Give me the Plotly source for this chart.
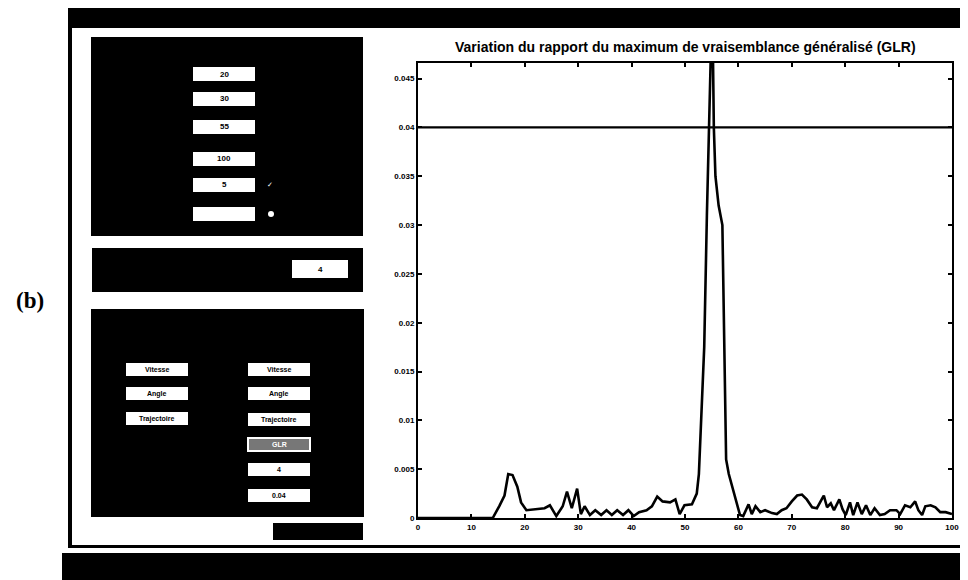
import plotly.graph_objects as go

# the page puts the figure 8 px from the top-left corner, so the figure is drawn 8 px smaller
OFF = 8
W, H = 968 - OFF, 580 - OFF

# ---------------- data ----------------
glr_x = [0, 14, 15.2, 16.2, 16.9, 17.7, 18.6, 19.3, 20.3, 22.3, 23.7, 24.7, 25.9, 27.1, 27.9,
         28.8, 29.8, 30.5, 31.2, 32.2, 33.2, 34.3, 35.3, 36.3, 37.3, 38.4, 39.4, 40.4, 41.4,
         42.8, 43.8, 44.8, 45.8, 47.2, 48.2, 49.0, 49.9, 51.3, 52.2, 52.6, 52.9, 53.3, 53.6,
         54.1, 54.6, 54.9, 55.2, 55.4, 55.7, 56.3, 57.0, 57.4, 57.7, 58.2, 59.0, 59.6, 60.3,
         60.9, 61.9, 62.5, 63.2, 64.1, 65.0, 66.3, 67.2, 68.1, 69.0, 70.0, 71.0, 71.9, 72.8,
         73.8, 74.7, 75.7, 76.0, 76.6, 77.3, 77.9, 78.9, 79.5, 80.1, 80.9, 81.5, 82.3, 83.1,
         83.9, 84.7, 85.5, 86.5, 87.4, 88.4, 89.6, 90.3, 91.2, 92.2, 93.1, 93.7, 94.4, 95.0,
         96.0, 96.9, 97.8, 98.8, 100]
glr_y = [0, 0, 0.0012, 0.0023, 0.0045, 0.0044, 0.0032, 0.0016, 0.0008, 0.0009, 0.0010, 0.0013,
         0.0002, 0.0012, 0.0027, 0.0010, 0.0030, 0.0004, 0.0012, 0.0003, 0.0008, 0.0003, 0.0008,
         0.0003, 0.0008, 0.0003, 0.0008, 0.0002, 0.0006, 0.0008, 0.0012, 0.0022, 0.0017, 0.0016,
         0.0019, 0.0004, 0.0013, 0.0014, 0.0025, 0.0045, 0.0090, 0.0135, 0.0175, 0.0310, 0.0405,
         0.0490, 0.0490, 0.0400, 0.0350, 0.0320, 0.0300, 0.0160, 0.0060, 0.0045, 0.0028, 0.0015,
         0.0003, 0.0002, 0.0014, 0.0004, 0.0012, 0.0006, 0.0008, 0.0005, 0.0004, 0.0008, 0.0010,
         0.0017, 0.0023, 0.0024, 0.0019, 0.0011, 0.0010, 0.0020, 0.0023, 0.0011, 0.0015, 0.0008,
         0.0019, 0.0009, 0.0003, 0.0016, 0.0003, 0.0016, 0.0004, 0.0013, 0.0003, 0.0010, 0.0003,
         0.0004, 0.0008, 0.0008, 0.0004, 0.0013, 0.0011, 0.0017, 0.0008, 0.0003, 0.0012, 0.0013,
         0.0011, 0.0006, 0.0006, 0.0004]
threshold = 0.04

x_ticks = [0, 10, 20, 30, 40, 50, 60, 70, 80, 90, 100]
y_ticks = [0, 0.005, 0.01, 0.015, 0.02, 0.025, 0.03, 0.035, 0.04, 0.045]
y_tick_labels = ["0", "0.005", "0.01", "0.015", "0.02", "0.025", "0.03", "0.035", "0.04", "0.045"]

title_text = "Variation du rapport du maximum de vraisemblance généralisé (GLR)"
param_values = ["20", "30", "55", "100", "5", ""]
panel2_value = "4"
left_buttons = ["Vitesse", "Angle", "Trajectoire"]
right_buttons = ["Vitesse", "Angle", "Trajectoire", "GLR", "4", "0.04"]
panel_label = "(b)"

FONT = "Liberation Sans, Arial"

# ---------------- helpers (screen pixel -> paper) ----------------
def px(x):
    return (x - OFF) / W

def py(y):
    return 1 - (y - OFF) / H

shapes = []
annotations = []

def rect(x0, y0, x1, y1, fill="black", line_color=None, line_width=0):
    shapes.append(dict(type="rect", xref="paper", yref="paper",
                       x0=px(x0), x1=px(x1), y0=py(y1), y1=py(y0),
                       fillcolor=fill,
                       line=dict(color=line_color or fill, width=line_width),
                       layer="below"))

def label(x, y, text, size=8, color="black", family=FONT, bold=True):
    annotations.append(dict(xref="paper", yref="paper", x=px(x), y=py(y),
                            text=("<b>%s</b>" % text) if (bold and text) else text,
                            showarrow=False, xanchor="center", yanchor="middle",
                            font=dict(size=size, color=color, family=family)))

# window frame
rect(68, 8, 968, 28)                    # title bar
rect(68, 8, 72, 548)                    # left border
rect(68, 545, 968, 548)                 # bottom border
rect(62, 553, 968, 580)                 # taskbar

# panel 1 with parameter fields
rect(91, 37, 363, 236)
field_tops = [67, 92, 120, 152, 178, 207]
for top, val in zip(field_tops, param_values):
    rect(193, top, 255, top + 14, fill="white")
    label(224, top + 7, val)
shapes.append(dict(type="circle", xref="paper", yref="paper",
                   x0=px(268), x1=px(274), y0=py(217), y1=py(211),
                   fillcolor="white", line=dict(color="white", width=0)))
label(270, 185, "✓", size=7, color="white", bold=False, family="DejaVu Sans")

# panel 2
rect(92, 248, 363, 292)
rect(292, 260, 348, 278, fill="white")
label(320, 269, panel2_value)

# panel 3 with buttons
rect(91, 309, 364, 517)
left_tops = [363, 387, 412]
for top, txt in zip(left_tops, left_buttons):
    rect(126, top, 188, top + 13, fill="white")
    label(157, top + 6.5, txt, size=7)
right_tops = [363, 387, 413, 438, 463, 489]
for top, txt in zip(right_tops, right_buttons):
    if txt == "GLR":
        rect(248, top, 310, top + 13, fill="#777777", line_color="white", line_width=2)
        label(279, top + 6.5, txt, size=7, color="white")
    else:
        rect(248, top, 310, top + 13, fill="white")
        label(279, top + 6.5, txt, size=7)
rect(273, 523, 363, 540)               # small dark button below panel 3

# (b) label
annotations.append(dict(xref="paper", yref="paper", x=px(30), y=py(300), text="<b>%s</b>" % panel_label,
                        showarrow=False, xanchor="center", yanchor="middle",
                        font=dict(size=23, color="black", family="Liberation Serif, Times New Roman")))

# plot title
annotations.append(dict(xref="paper", yref="paper", x=px(685), y=py(47), text="<b>%s</b>" % title_text,
                        showarrow=False, xanchor="center", yanchor="middle",
                        font=dict(size=14, color="black", family=FONT)))

# ---------------- figure ----------------
fig = go.Figure()
fig.add_trace(go.Scatter(x=glr_x, y=glr_y, mode="lines",
                         line=dict(color="black", width=2.6), showlegend=False))
fig.add_trace(go.Scatter(x=[x_ticks[0], x_ticks[-1]], y=[threshold, threshold], mode="lines",
                         line=dict(color="black", width=2.2), showlegend=False))

plot_l, plot_r, plot_t, plot_b = 418, 952, 63, 518
fig.update_layout(
    width=W, height=H,
    margin=dict(l=0, r=0, t=0, b=0),
    paper_bgcolor="white", plot_bgcolor="white",
    shapes=shapes, annotations=annotations,
    xaxis=dict(domain=[px(plot_l), px(plot_r)], range=[0, 100],
               tickvals=x_ticks, ticktext=["<b>%d</b>" % v for v in x_ticks],
               ticks="inside", ticklen=4, tickwidth=1.5, tickcolor="black",
               showline=True, linecolor="black", linewidth=2, mirror="ticks",
               showgrid=False, zeroline=False, automargin=False,
               tickfont=dict(size=8, family=FONT, color="black")),
    yaxis=dict(domain=[py(plot_b), py(plot_t)], range=[0, 0.0466],
               tickvals=y_ticks, ticktext=["<b>%s</b>" % t for t in y_tick_labels],
               ticks="inside", ticklen=4, tickwidth=1.5, tickcolor="black",
               showline=True, linecolor="black", linewidth=2, mirror="ticks",
               showgrid=False, zeroline=False, automargin=False,
               tickfont=dict(size=8, family=FONT, color="black")),
)

fig.write_html("out.html")
